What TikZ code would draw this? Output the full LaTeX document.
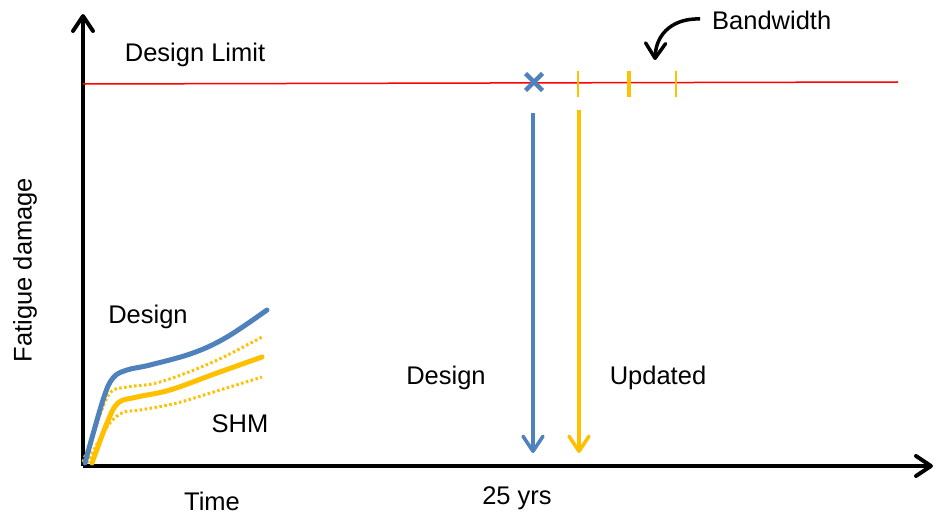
\documentclass[tikz,border=0pt]{standalone}
\usepackage{fontspec}
\setmainfont{Liberation Sans}
\usetikzlibrary{arrows.meta}
\definecolor{dsgblue}{HTML}{4F81BD}
\definecolor{shmyellow}{HTML}{FFC000}
\definecolor{limitred}{HTML}{FF0000}
\begin{document}
\begin{tikzpicture}[x=1pt,y=-1pt,
  lbl/.style={font=\fontsize{25.5}{30}\selectfont, inner sep=0pt, anchor=center},
  barb/.style={-{Straight Barb[length=15pt,width=20pt,line cap=round,line join=round]}},
  axisline/.style={line width=4pt, barb},
  lifearrow/.style={line width=3.5pt, barb},
  curve/.style={line width=5pt, line cap=round, line join=round},
  band/.style={line width=3pt, dash pattern=on 2.5pt off 2.5pt, shmyellow},
  tick/.style={line width=2.5pt, shmyellow}]
\useasboundingbox (0,0) rectangle (935,516);

% axes
\coordinate (O) at (83,466);
\coordinate (ytop) at (83,14);
\coordinate (xend) at (933,466);
\draw[axisline] (O) -- (ytop);
\draw[axisline] (O) -- (xend);

% design limit line
\coordinate (limA) at (83,84);
\coordinate (limB) at (898,82);
\draw[limitred, line width=1.5pt] (limA) -- (limB);

% axis and limit labels
\node[lbl, rotate=90] (ylab) at (25,270) {Fatigue damage};
\node[lbl] (xlab) at (212,501) {Time};
\node[lbl] (yrs) at (517,498) {25 yrs};
\node[lbl] (limlab) at (195,55) {Design Limit};

% design life marker and SHM bandwidth ticks
\draw[dsgblue, line width=4.5pt] (525.5,73.5) -- (542.5,90.5) (525.5,90.5) -- (542.5,73.5);
\draw[tick] (578,71) -- (578,97);
\draw[tick, line width=4.5pt] (629,71) -- (629,97);
\draw[tick] (676,71) -- (676,97);

% bandwidth callout
\node[lbl, anchor=west] (bw) at (712,20) {Bandwidth};
\coordinate (bwtip) at (655,60);
\draw[line width=3.5pt, barb] (bw.west) ++(-12,-1) coordinate (bwstart)
  .. controls (675,18) and (656,32) .. (bwtip);

% remaining-life arrows
\coordinate (dTop) at (533,113);
\coordinate (dEnd) at (533,453);
\coordinate (uTop) at (579,110);
\coordinate (uEnd) at (579,453);
\draw[lifearrow, dsgblue] (dTop) -- (dEnd);
\draw[lifearrow, shmyellow] (uTop) -- (uEnd);
\node[lbl] (dlab) at (446,378) {Design};
\node[lbl] (ulab) at (658,378) {Updated};

% damage accumulation curves
\draw[band] plot[smooth, tension=0.6] coordinates
  {(83,462) (97,423) (110,393) (127,387) (160,382) (213,362) (262,337)};
\draw[band] plot[smooth, tension=0.6] coordinates
  {(87,463) (107,427) (122,413) (140,410) (177,403) (220,390) (262,377)};
\draw[curve, dsgblue] plot[smooth, tension=0.6] coordinates
  {(85,463) (103,400) (113,378) (127,370) (150,365) (193,353) (227,337) (267,310)};
\draw[curve, shmyellow] plot[smooth, tension=0.6] coordinates
  {(92,463) (107,423) (118,403) (137,397) (170,390) (217,373) (262,357)};
\node[lbl] (clab1) at (148,317) {Design};
\node[lbl] (clab2) at (240,424) {SHM};
\end{tikzpicture}
\end{document}
